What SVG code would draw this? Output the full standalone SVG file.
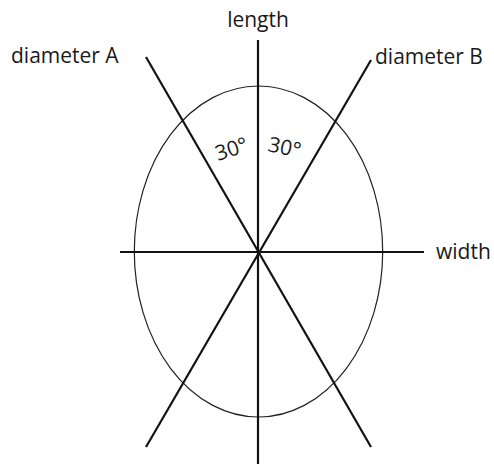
<svg xmlns="http://www.w3.org/2000/svg" width="494" height="464" viewBox="0 0 494 464">
<style>
.t{font-family:"Open Sans","Liberation Sans",sans-serif;font-size:21px;fill:#1a1a1a}
.ln{stroke:#111;stroke-width:2.2;fill:none}
.el{stroke:#222;stroke-width:1.2;fill:none}
</style>
<rect width="494" height="464" fill="#fff"/>
<g id="ellipse"><ellipse class="el" cx="258.5" cy="251.5" rx="124.2" ry="165.5"/></g>
<g id="connectors">
<line id="length-axis" class="ln" x1="258" y1="40" x2="258" y2="464"/>
<line id="width-axis" class="ln" x1="120" y1="252" x2="424" y2="252"/>
<line id="diameter-a" class="ln" x1="146" y1="57" x2="371" y2="447"/>
<line id="diameter-b" class="ln" x1="371" y1="60" x2="146" y2="447"/>
</g>
<g id="labels">
<text class="t" x="258" y="27" text-anchor="middle">length</text>
<text class="t" x="11" y="63">diameter A</text>
<text class="t" x="375" y="64">diameter B</text>
<text class="t" x="436" y="259">width</text>
<text class="t" font-size="23.5" transform="translate(218,161) rotate(-18)">30°</text>
<text class="t" font-size="23.5" transform="translate(267,151) rotate(12)">30°</text>
</g>
</svg>
